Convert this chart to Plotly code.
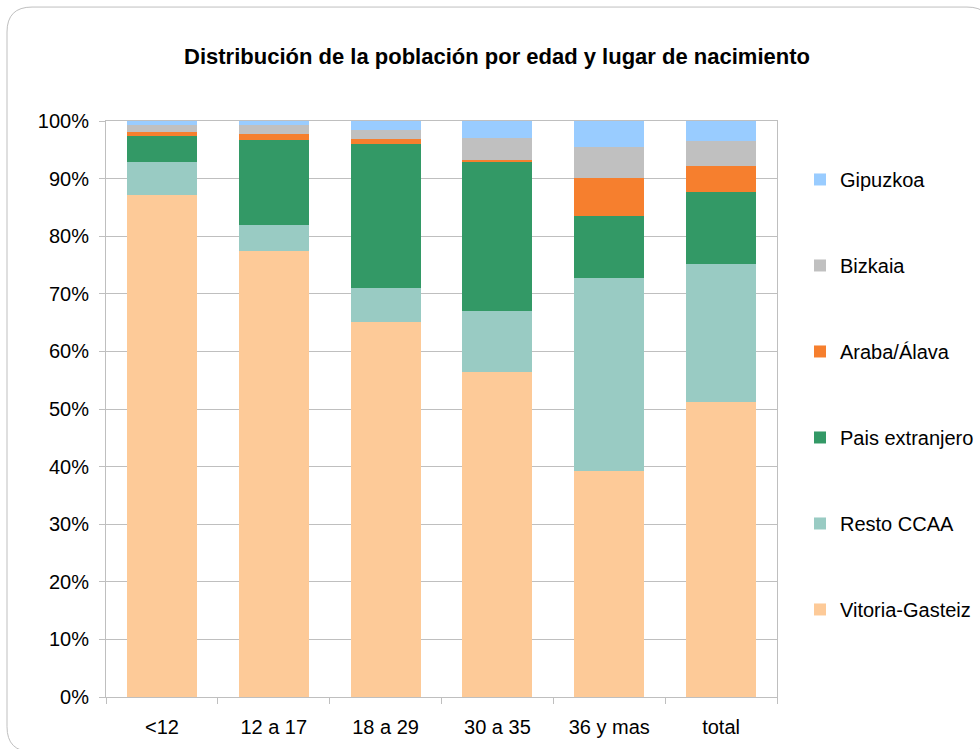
import plotly.graph_objects as go

categories = ["<12", "12 a 17", "18 a 29", "30 a 35", "36 y mas", "total"]

vitoria = [87.2, 77.4, 65.1, 56.4, 39.3, 51.2]
resto = [5.7, 4.5, 5.9, 10.6, 33.5, 24.0]
pais = [4.5, 14.8, 25.0, 25.9, 10.7, 12.5]
araba = [0.7, 1.1, 0.9, 0.4, 6.6, 4.5]
bizkaia = [1.2, 1.5, 1.5, 3.8, 5.4, 4.3]
gipuzkoa = [0.7, 0.7, 1.6, 2.9, 4.5, 3.5]

series_names = ["Vitoria-Gasteiz", "Resto CCAA", "Pais extranjero", "Araba/Álava", "Bizkaia", "Gipuzkoa"]
series_values = [vitoria, resto, pais, araba, bizkaia, gipuzkoa]
series_colors = ["#fdca98", "#99cbc3", "#339966", "#f67f2e", "#c0c0c0", "#99ccff"]

FONT = "Liberation Sans, Arial, sans-serif"

fig = go.Figure()
n = len(series_names)
for i, (name, vals, col) in enumerate(zip(series_names, series_values, series_colors)):
    fig.add_trace(go.Bar(
        x=categories, y=vals, name=name, marker=dict(color=col, line=dict(width=0)),
        legendgroup=name, legendrank=n - i,
    ))

# plot area in pixels
L, R, T, B = 106, 777, 121, 697.3
W, H = 980, 749

def px(x):
    return (x - L) / (R - L)

def py(y):
    return (B - y) / (B - T)

# rounded outer border
x0, y0, x1, y1, r = 7, 7, 992, 752, 25
path = (
    f"M{px(x0 + r)},{py(y0)} L{px(x1 - r)},{py(y0)} Q{px(x1)},{py(y0)} {px(x1)},{py(y0 + r)} "
    f"L{px(x1)},{py(y1 - r)} Q{px(x1)},{py(y1)} {px(x1 - r)},{py(y1)} "
    f"L{px(x0 + r)},{py(y1)} Q{px(x0)},{py(y1)} {px(x0)},{py(y1 - r)} "
    f"L{px(x0)},{py(y0 + r)} Q{px(x0)},{py(y0)} {px(x0 + r)},{py(y0)} Z"
)

fig.update_layout(
    width=W, height=H,
    barmode="stack", bargap=0.374,
    paper_bgcolor="white", plot_bgcolor="white",
    margin=dict(l=L, r=W - R, t=T, b=H - B, pad=0, autoexpand=False),
    font=dict(family=FONT, size=20, color="black"),
    title=dict(
        text="<b>Distribución de la población por edad y lugar de nacimiento</b>",
        x=497 / W, xref="container", xanchor="center",
        y=1 - 56 / H, yref="container", yanchor="middle",
        font=dict(family=FONT, size=22, color="black"),
    ),
    xaxis=dict(
        showline=True, linecolor="#bfbfbf", linewidth=1, mirror=True,
        ticks="outside", tickson="boundaries", ticklen=6, tickcolor="#bfbfbf",
        ticklabelstandoff=12,
        tickfont=dict(family=FONT, size=20, color="black"),
    ),
    yaxis=dict(
        range=[0, 100], dtick=10, ticksuffix="%",
        showgrid=True, gridcolor="#bfbfbf", gridwidth=1,
        showline=True, linecolor="#bfbfbf", linewidth=1, mirror=True,
        ticks="outside", ticklen=6, tickcolor="#bfbfbf",
        ticklabelstandoff=6, zeroline=False,
        tickfont=dict(family=FONT, size=20, color="black"),
    ),
    legend=dict(
        x=px(800), xanchor="left",
        y=py(160), yanchor="top",
        traceorder="grouped", tracegroupgap=57, maxheight=650,
        font=dict(family=FONT, size=20, color="black"),
        bgcolor="rgba(0,0,0,0)",
    ),
    shapes=[dict(type="path", path=path, xref="paper", yref="paper",
                 line=dict(color="#bfbfbf", width=1), fillcolor="rgba(0,0,0,0)", layer="below")],
)

fig.write_html("out.html", config={"displayModeBar": False},
               post_script="document.body.style.margin='0px';document.body.style.padding='0px';")
